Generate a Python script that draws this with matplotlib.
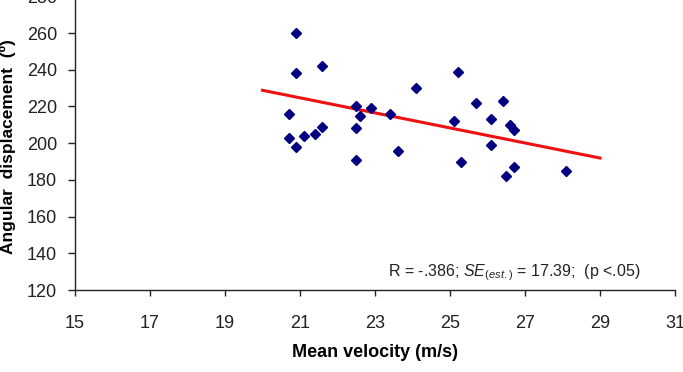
import matplotlib
matplotlib.use("Agg")
import matplotlib.pyplot as plt

# mean velocity (m/s) and angular displacement (deg)
velocity = [20.9, 20.9, 21.6, 24.1, 20.7, 22.5, 22.9, 22.6, 23.4, 20.7,
            21.1, 21.4, 21.6, 20.9, 22.5, 22.5, 23.6, 25.2, 25.7, 26.4,
            25.1, 26.1, 26.6, 26.7, 26.1, 25.3, 26.7, 26.5, 28.1]
displacement = [260, 238, 242, 230, 216, 220, 219, 215, 216, 203,
                204, 205, 209, 198, 208, 191, 196, 239, 222, 223,
                212, 213, 210, 207, 199, 190, 187, 182, 185]

# regression line end points
fit_x = [20, 29]
fit_y = [228.8, 191.9]

x_ticks = [15, 17, 19, 21, 23, 25, 27, 29, 31]
y_ticks = [120, 140, 160, 180, 200, 220, 240, 260, 280]

plt.rcParams['font.family'] = ['Liberation Sans', 'DejaVu Sans']
plt.rcParams['mathtext.fontset'] = 'custom'
plt.rcParams['mathtext.rm'] = 'Liberation Sans'
plt.rcParams['mathtext.it'] = 'Liberation Sans:italic'

fig = plt.figure(figsize=(6.83, 3.72), dpi=100)
ax = fig.add_axes([0.1098, 0.2204, 0.8785, 0.7895])

ax.plot(velocity, displacement, linestyle='none', marker='D', markersize=5.2,
        color='#000080', zorder=3)
ax.plot(fit_x, fit_y, color='#ee1111', linewidth=2.2, zorder=2)

ax.set_xlim(15, 31)
ax.set_ylim(120, 280)
ax.set_xticks(x_ticks)
ax.set_yticks(y_ticks)

for side in ['top', 'right']:
    ax.spines[side].set_visible(False)
for side in ['left', 'bottom']:
    ax.spines[side].set_color('#222222')
    ax.spines[side].set_linewidth(1.0)

ax.tick_params(axis='x', direction='out', length=4, width=1, pad=14,
               labelsize=13, colors='#222222')
ax.tick_params(axis='y', direction='out', length=5, width=1, pad=8,
               labelsize=13, colors='#222222')

ax.set_xlabel('Mean velocity (m/s)', fontsize=13, fontweight='bold')
ax.set_ylabel('Angular  displacement  (º)', fontsize=12.5, fontweight='bold')
ax.xaxis.set_label_coords(0.5, -0.185)
ax.yaxis.set_label_coords(-0.098, 0.49)

ax.text(30.07, 129.5, r'R = -.386; $SE_{(est.)}$ = 17.39;  (p <.05)',
        ha='right', va='center', fontsize=11.5, color='#222222')

fig.savefig('out.png', dpi=100)
